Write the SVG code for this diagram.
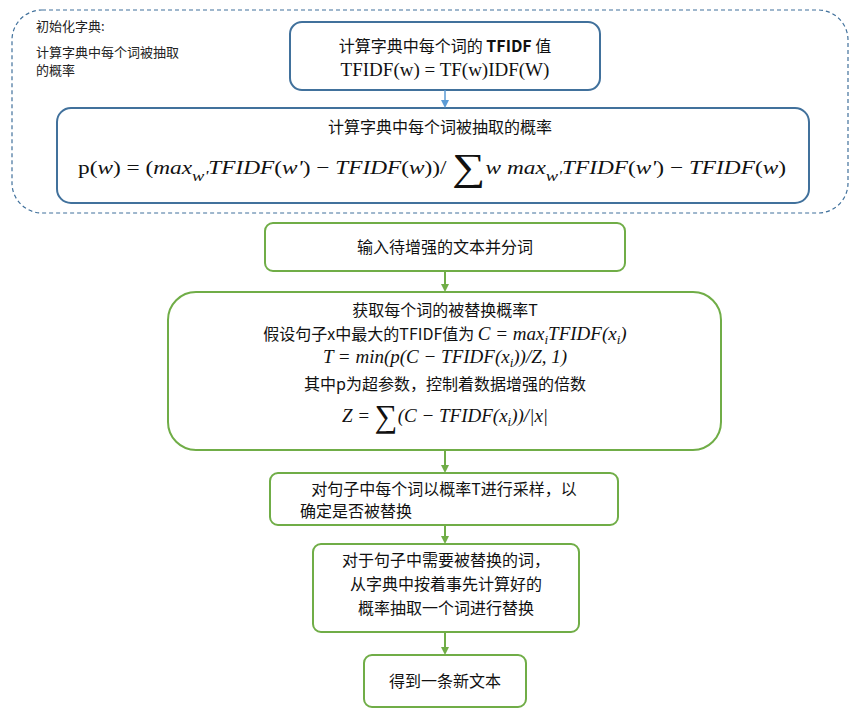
<svg xmlns="http://www.w3.org/2000/svg" width="862" height="718" viewBox="0 0 862 718">
<style>
.b{fill:#fff;stroke:#41719c;stroke-width:2}
.g{fill:#fff;stroke:#70ad47;stroke-width:2}
.t{font-family:"Noto Sans CJK SC","Noto Sans",sans-serif;font-size:16px;fill:#111;text-anchor:middle}
.s{font-family:"Noto Sans CJK SC",sans-serif;font-size:13px;fill:#222}
.m{font-family:"Liberation Serif",serif;font-size:19px;fill:#111;text-anchor:middle}
.i{font-style:italic}
.lg{stroke:#70ad47;stroke-width:2;fill:none}
.lb{stroke:#5b9bd5;stroke-width:1.5;fill:none}
</style>
<defs>
<marker id="ag" markerWidth="8" markerHeight="8" refX="6" refY="4" orient="auto" markerUnits="userSpaceOnUse"><path d="M0,0L8,4L0,8z" fill="#70ad47"/></marker>
<marker id="ab" markerWidth="8" markerHeight="8" refX="6" refY="4" orient="auto" markerUnits="userSpaceOnUse"><path d="M0,0L8,4L0,8z" fill="#5b9bd5"/></marker>
</defs>
<rect id="init" x="12" y="10" width="836" height="203" rx="30" fill="none" stroke="#41719c" stroke-width="1.2" stroke-dasharray="4,3"/>
<text class="s" x="36" y="31">初始化字典:</text>
<text class="s" x="36" y="57">计算字典中每个词被抽取</text>
<text class="s" x="36" y="75">的概率</text>
<g id="n1"><rect class="b" x="290" y="22" width="310" height="68" rx="12"/>
<text class="t" x="445" y="52">计算字典中每个词的 <tspan font-weight="bold">TFIDF</tspan> 值</text>
<text class="m" x="445" y="76" font-size="18">TFIDF(w) = TF(w)IDF(W)</text></g>
<g id="n2"><rect class="b" x="57" y="108" width="752" height="95" rx="14"/>
<text class="t" x="440" y="133">计算字典中每个词被抽取的概率</text>
<text class="m" x="432" y="174" font-size="24" textLength="708" lengthAdjust="spacingAndGlyphs">p(<tspan class="i">w</tspan>) = (<tspan class="i">max</tspan><tspan class="i" font-size="15" dy="7">w'</tspan><tspan class="i" dy="-7">TFIDF</tspan>(<tspan class="i">w'</tspan>) − <tspan class="i">TFIDF</tspan>(<tspan class="i">w</tspan>))/ <tspan font-size="38" dy="6">∑</tspan><tspan class="i" dy="-6">w max</tspan><tspan class="i" font-size="15" dy="7">w'</tspan><tspan class="i" dy="-7">TFIDF</tspan>(<tspan class="i">w'</tspan>) − <tspan class="i">TFIDF</tspan>(<tspan class="i">w</tspan>)</text></g>
<g id="n3"><rect class="g" x="265" y="223" width="360" height="48" rx="8"/>
<text class="t" x="445" y="253">输入待增强的文本并分词</text></g>
<g id="n4"><rect class="g" x="168" y="292" width="553" height="158" rx="28"/>
<text class="t" x="445" y="316">获取每个词的被替换概率T</text>
<text class="t" x="445" y="340">假设句子x中最大的TFIDF值为 <tspan class="m i" font-size="19">C = max<tspan font-size="13" dy="4">i</tspan><tspan dy="-4">TFIDF(x</tspan><tspan font-size="13" dy="4">i</tspan><tspan dy="-4">)</tspan></tspan></text>
<text class="m" x="445" y="363"><tspan class="i">T = min(p(C − TFIDF(x</tspan><tspan class="i" font-size="13" dy="4">i</tspan><tspan class="i" dy="-4">))/Z, 1)</tspan></text>
<text class="t" x="445" y="390">其中p为超参数，控制着数据增强的倍数</text>
<text class="m" x="445" y="422"><tspan class="i">Z = </tspan><tspan font-size="32" dy="5">∑</tspan><tspan class="i" dy="-5">(C − TFIDF(x</tspan><tspan class="i" font-size="13" dy="4">i</tspan><tspan class="i" dy="-4">))/|x|</tspan></text></g>
<g id="n5"><rect class="g" x="270" y="473" width="348" height="52" rx="8"/>
<text class="t" x="444" y="495">对句子中每个词以概率T进行采样，以</text>
<text class="t" x="300" y="517" style="text-anchor:start">确定是否被替换</text></g>
<g id="n6"><rect class="g" x="313" y="544" width="266" height="88" rx="8"/>
<text class="t" x="446" y="566">对于句子中需要被替换的词，</text>
<text class="t" x="446" y="590">从字典中按着事先计算好的</text>
<text class="t" x="446" y="614">概率抽取一个词进行替换</text></g>
<g id="n7"><rect class="g" x="364" y="655" width="162" height="52" rx="8"/>
<text class="t" x="445" y="687">得到一条新文本</text></g>
<g id="edges">
<path class="lb" d="M445,90V106" marker-end="url(#ab)"/>
<path class="lg" d="M445,271V290" marker-end="url(#ag)"/>
<path class="lg" d="M445,450V471" marker-end="url(#ag)"/>
<path class="lg" d="M445,525V542" marker-end="url(#ag)"/>
<path class="lg" d="M445,632V653" marker-end="url(#ag)"/>
</g>
</svg>
